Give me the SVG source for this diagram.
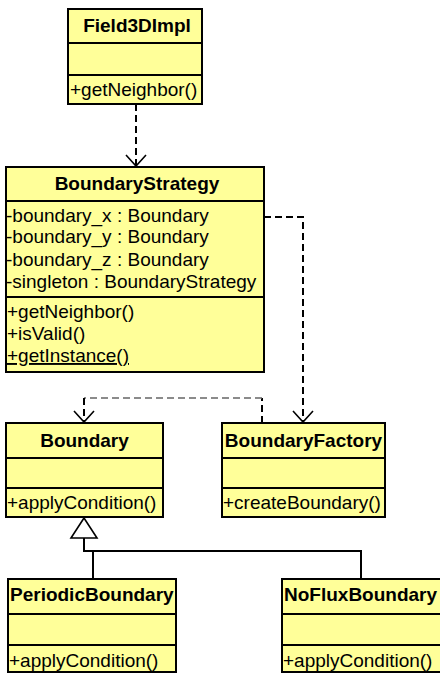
<svg xmlns="http://www.w3.org/2000/svg" width="440" height="673" viewBox="0 0 440 673">
<style>
.box{fill:#FFFF99;stroke:#000;stroke-width:2}
.div{stroke:#000;stroke-width:2}
text{font-family:"Liberation Sans",Arial,sans-serif;font-size:19px;fill:#000}
.t{font-weight:bold;text-anchor:middle}
.tl{font-weight:bold}
.dash{fill:none;stroke:#000;stroke-width:2;stroke-dasharray:7,4}
.dashg{fill:none;stroke:#666;stroke-width:1.5;stroke-dasharray:7,4}
.solid{fill:none;stroke:#000;stroke-width:2}
</style>
<defs>
<marker id="open" markerUnits="userSpaceOnUse" markerWidth="24" markerHeight="24" refX="12" refY="12" orient="auto">
<path d="M1,2 L12,12 L1,22" fill="none" stroke="#000" stroke-width="1.6"/>
</marker>
</defs>
<g id="connectors">
<path class="dash" d="M136,104 L136,166" marker-end="url(#open)"/>
<path class="dash" d="M264,217 L303,217 L303,422" marker-end="url(#open)"/>
<path class="dash" d="M262,423 L262,398"/>
<path class="dashg" d="M262,398 L84,398"/>
<path class="dash" d="M84,398 L84,422" marker-end="url(#open)"/>
<path class="solid" d="M84,538 L84,551 L361,551 L361,579 M93,551 L93,579"/>
<polygon points="84,518 71,538 97,538" fill="#fff" stroke="#000" stroke-width="1.6"/>
</g>
<g id="Field3DImpl">
<rect class="box" x="68" y="9" width="134" height="95"/>
<line class="div" x1="68" y1="43" x2="202" y2="43"/>
<line class="div" x1="68" y1="75" x2="202" y2="75"/>
<text class="t" x="137" y="32">Field3DImpl</text>
<text x="70" y="96">+getNeighbor()</text>
</g>
<g id="BoundaryStrategy">
<rect class="box" x="6" y="167" width="258" height="205"/>
<line class="div" x1="6" y1="201" x2="264" y2="201"/>
<line class="div" x1="6" y1="297" x2="264" y2="297"/>
<text class="t" x="137" y="190">BoundaryStrategy</text>
<text x="6" y="222">-boundary_x : Boundary</text>
<text x="6" y="243">-boundary_y : Boundary</text>
<text x="6" y="266">-boundary_z : Boundary</text>
<text x="6" y="288">-singleton : BoundaryStrategy</text>
<text x="7" y="318">+getNeighbor()</text>
<text x="7" y="340">+isValid()</text>
<text x="7" y="362" text-decoration="underline">+getInstance()</text>
</g>
<g id="Boundary">
<rect class="box" x="6" y="423" width="157" height="94"/>
<line class="div" x1="6" y1="458" x2="163" y2="458"/>
<line class="div" x1="6" y1="488" x2="163" y2="488"/>
<text class="t" x="84.5" y="447">Boundary</text>
<text x="7" y="509">+applyCondition()</text>
</g>
<g id="BoundaryFactory">
<rect class="box" x="222" y="423" width="163" height="94"/>
<line class="div" x1="222" y1="458" x2="385" y2="458"/>
<line class="div" x1="222" y1="488" x2="385" y2="488"/>
<text class="t" x="303.5" y="447">BoundaryFactory</text>
<text x="223" y="509">+createBoundary()</text>
</g>
<g id="PeriodicBoundary">
<rect class="box" x="8" y="579" width="168" height="93"/>
<line class="div" x1="8" y1="614" x2="176" y2="614"/>
<line class="div" x1="8" y1="645" x2="176" y2="645"/>
<text class="tl" x="10" y="601">PeriodicBoundary</text>
<text x="9" y="667">+applyCondition()</text>
</g>
<g id="NoFluxBoundary">
<rect class="box" x="282" y="579" width="170" height="93"/>
<line class="div" x1="282" y1="614" x2="452" y2="614"/>
<line class="div" x1="282" y1="645" x2="452" y2="645"/>
<text class="tl" x="284" y="601">NoFluxBoundary</text>
<text x="283" y="667">+applyCondition()</text>
</g>
</svg>
